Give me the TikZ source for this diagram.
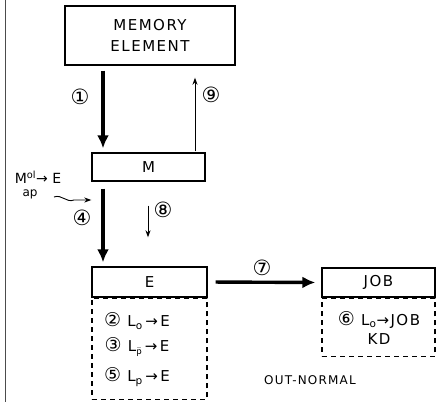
\documentclass[tikz,border=0pt]{standalone}
\usepackage{fontspec}
\setmainfont{DejaVu Sans}
\newfontfamily\hand[LetterSpace=10]{DejaVu Sans}
\usetikzlibrary{arrows.meta, positioning, calc}

\begin{document}
\begin{tikzpicture}[x=1pt, y=-1pt,
		box/.style={rectangle, draw=black, line width=1.4pt, align=center, inner sep=0pt, font=\hand\fontsize{15}{19}\selectfont},
		dbox/.style={rectangle, draw=black, line width=1.1pt, dash pattern=on 5pt off 4pt, inner sep=0pt},
		txt/.style={font=\hand\fontsize{15}{17}\selectfont, inner sep=1pt},
		num/.style={font=\fontsize{21}{21}\selectfont, inner sep=0pt},
		fat/.style={-{Latex[length=13pt, width=12pt]}, line width=3.4pt},
		thin/.style={-{Stealth[length=7pt, width=5pt]}, line width=0.9pt}
		]
		\useasboundingbox (0,0) rectangle (439,402);
		\draw[line width=0.8pt, black!70] (5,0) -- (5,402);
		
		% boxes
		\node[box, minimum width=170pt, minimum height=59pt] (mem) at (150,35.5) {MEMORY\\[2pt]ELEMENT};
		\node[box, minimum width=113pt, minimum height=28pt] (m) at (148.5,167) {M};
		\node[box, minimum width=115pt, minimum height=30pt] (e) at (149.5,282) {E};
		\node[dbox, minimum width=115pt, minimum height=101pt, below=0pt of e] (elist) {};
		\node[box, minimum width=113pt, minimum height=29pt] (job) at (378.5,282.5) {JOB};
		\node[dbox, minimum width=113pt, minimum height=58pt, below=0pt of job] (jlist) {};
		
		\coordinate (c1) at (103,0);
		\coordinate (c9) at (195,0);
		\coordinate (c8) at (148,0);
		
		% arrows
		\draw[fat, shorten <=5pt, shorten >=4pt] (mem.south -| c1) -- (m.north -| c1);
		\node[num] (n1) at (80,97) {①};
		\draw[thin, shorten <=1pt, shorten >=12pt] (m.north -| c9) -- (mem.south -| c9);
		\node[num] (n9) at (211,95) {⑨};
		\draw[fat, shorten <=7pt, shorten >=4pt] (m.south -| c1) -- (e.north -| c1);
		\node[num] (n4) at (82,218) {④};
		\draw[thin, shorten <=24pt, shorten >=29pt] (m.south -| c8) -- (e.north -| c8);
		\node[num] (n8) at (163,210) {⑧};
		\draw[fat, shorten <=8pt, shorten >=6pt] (e.east) -- (job.west);
		\node[num] (n7) at (262,268) {⑦};
		
		% input on the left
		\node[txt, font=\fontsize{14}{15}\selectfont] (inp) at (38,177) {M\textsuperscript{ol}→ E};
		\node[txt, font=\fontsize{12}{13}\selectfont] (inpsub) at (30,194) {ap};
		\coordinate (w0) at (54,197);
		\draw[thin] (w0) .. controls (62,194) and (66,203) .. (74,200) -- (m.south west |- 0,200);
		
		% contents of E and JOB
		\node[txt] (r2) at (137,321) {{\normalfont\fontsize{19}{19}\selectfont ②} L\textsubscript{o}\,→\,E};
		\node[txt] (r3) at (137,347) {{\normalfont\fontsize{19}{19}\selectfont ③} L\textsubscript{$\bar{\mathsf{p}}$}\,→\,E};
		\node[txt] (r5) at (137,377) {{\normalfont\fontsize{19}{19}\selectfont ⑤} L\textsubscript{p}\,→\,E};
		\node[txt] (r6) at (379,320) {{\normalfont\fontsize{19}{19}\selectfont ⑥} L\textsubscript{o}→JOB};
		\node[txt, below=3pt of r6] (kd) {KD};
		\node[txt, font=\hand\fontsize{12}{14}\selectfont] (out) at (310,380) {OUT-NORMAL};
	\end{tikzpicture}
\end{document}
